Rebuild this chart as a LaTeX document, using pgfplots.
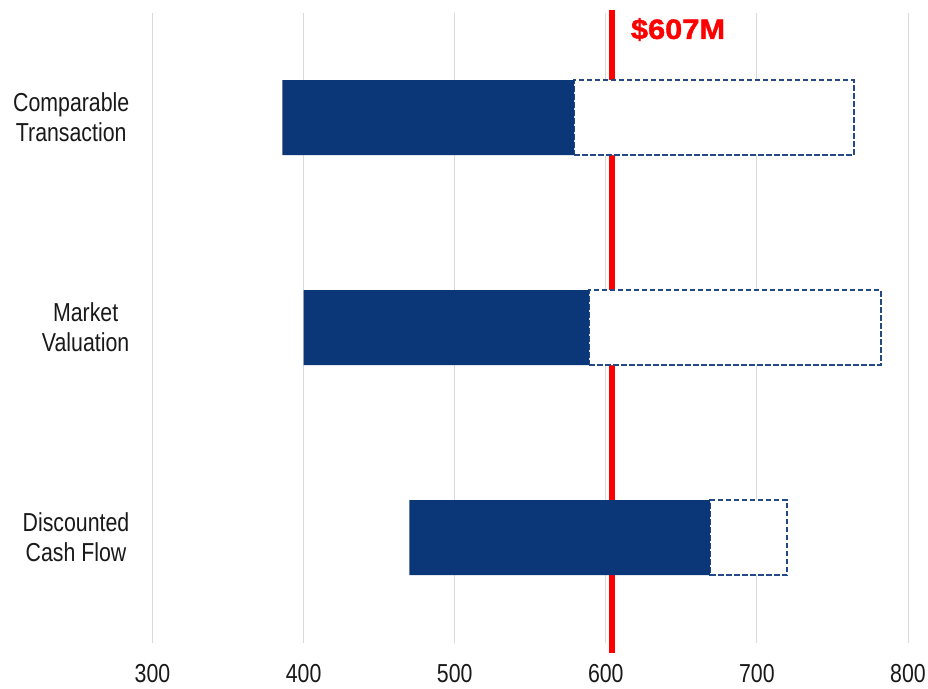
\documentclass[border=0pt]{standalone}
\usepackage{pgfplots}
\pgfplotsset{compat=1.18}
\usepackage{pgfplotstable}
\usepackage{fontspec}
\setmainfont[FakeStretch=0.82]{Liberation Sans}
\newfontfamily\labelfont[FakeStretch=1.1, FakeBold=1.5]{Liberation Sans}
\definecolor{navy}{RGB}{11,54,120}
\definecolor{gridgray}{RGB}{217,217,217}
\definecolor{redline}{RGB}{255,0,0}

% cat: 0 = Discounted Cash Flow, 1 = Market Valuation, 2 = Comparable Transaction
\pgfplotstableread{
cat start mid end
0   470   669 720
1   400   589 782
2   386   579 764
}\ranges

\begin{document}
\begin{tikzpicture}
\begin{axis}[
  scale only axis,
  width=755.5pt, height=630pt,
  xmin=300, xmax=800, ymin=-0.5, ymax=2.5,
  xbar stacked, bar width=0.357,
  axis line style={draw=none},
  major tick length=0pt,
  xtick={300,400,500,600,700,800},
  ytick={0,1,2},
  yticklabels={{Discounted\\Cash Flow},{Market\\Valuation},{Comparable\\Transaction}},
  xmajorgrids, ymajorgrids=false,
  grid style={draw=gridgray, line width=1pt},
  ticklabel style={font=\fontsize{26}{30}\selectfont, text=black!90},
  yticklabel style={align=center, inner sep=0pt, xshift=-23pt},
  xticklabel style={inner sep=0pt, yshift=-21pt},
  /pgf/number format/assume math mode=true,
  clip=false,
]
\addplot[draw=none, fill=none] table[x=start, y=cat] {\ranges};
\addplot[fill=navy, draw=none] table[x expr=\thisrow{mid}-\thisrow{start}, y=cat] {\ranges};
\addplot[fill=white, draw=navy!90, line width=2pt, dash pattern=on 5.5pt off 2.5pt] table[x expr=\thisrow{end}-\thisrow{mid}, y=cat] {\ranges};
\addplot[stack plots=false, sharp plot, no markers, draw=redline, line width=5.5pt] coordinates {(604,-0.548) (604,2.512)};
\node[anchor=base west, inner sep=0pt, text=redline, font=\labelfont\bfseries\fontsize{28}{32}\selectfont] at (axis cs:616.5,2.375) {\$607M};
\end{axis}
\path ([xshift=-152.5pt,yshift=-45.3pt]current axis.south west) rectangle ++(928pt,688pt);
\end{tikzpicture}
\end{document}
